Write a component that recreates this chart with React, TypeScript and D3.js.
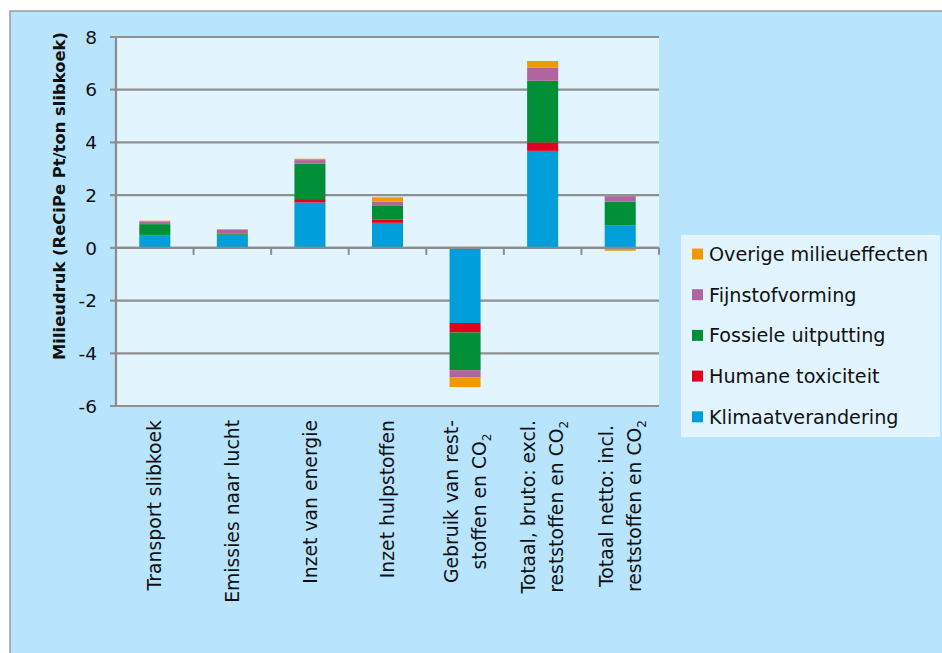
import { useEffect, useRef } from 'react';
import * as d3 from 'd3';

// Categories (lines of each rotated label)
const categories = [
  ['Transport slibkoek'],
  ['Emissies naar lucht'],
  ['Inzet van energie'],
  ['Inzet hulpstoffen'],
  ['Gebruik van rest-', 'stoffen en CO2'],
  ['Totaal, bruto: excl.', 'reststoffen en CO2'],
  ['Totaal netto: incl.', 'reststoffen en CO2'],
];

const klimaat = [0.47, 0.49, 1.72, 0.95, -2.85, 3.68, 0.86];
const humane = [0.02, 0.01, 0.13, 0.13, -0.36, 0.32, -0.02];
const fossiel = [0.41, 0.03, 1.35, 0.51, -1.43, 2.34, 0.89];
const fijnstof = [0.08, 0.17, 0.13, 0.16, -0.28, 0.49, 0.21];
const overige = [0.05, 0.0, 0.05, 0.17, -0.36, 0.26, -0.09];

const seriesNames = [
  'Klimaatverandering',
  'Humane toxiciteit',
  'Fossiele uitputting',
  'Fijnstofvorming',
  'Overige milieueffecten',
];
const seriesValues = [klimaat, humane, fossiel, fijnstof, overige];
const seriesColors = ['#009edb', '#e3001b', '#008f36', '#b0659f', '#ef9b00'];

const yTicks = [-6, -4, -2, 0, 2, 4, 6, 8];

const FONT = '"DejaVu Sans", sans-serif';

export default function App() {
  const ref = useRef<SVGSVGElement>(null);

  useEffect(() => {
    if (!ref.current) return;
    document.body.style.margin = '0';
    const svg = d3.select(ref.current);
    svg.selectAll('*').remove();

    const plot = { left: 116, right: 659, top: 37, bottom: 406 };

    // frame
    svg.append('rect').attr('width', 942).attr('height', 653).attr('fill', '#ffffff');
    svg.append('rect')
      .attr('x', 10).attr('y', 11).attr('width', 940).attr('height', 650)
      .attr('fill', '#b9e4fe').attr('stroke', '#9a9a9a').attr('stroke-width', 1.5);

    svg.append('rect')
      .attr('x', plot.left).attr('y', plot.top)
      .attr('width', plot.right - plot.left).attr('height', plot.bottom - plot.top)
      .attr('fill', '#e2f4fe');

    const keys = categories.map((_, i) => String(i));
    const x = d3.scaleBand<string>().domain(keys).range([plot.left, plot.right])
      .paddingInner(0.6).paddingOuter(0.3);
    const y = d3.scaleLinear().domain([-6, 8]).range([plot.bottom, plot.top]);

    // gridlines
    svg.append('g').selectAll('line').data(yTicks).join('line')
      .attr('x1', plot.left - 6).attr('x2', plot.right)
      .attr('y1', d => y(d)).attr('y2', d => y(d))
      .attr('stroke', '#909090').attr('stroke-width', 2.2);

    // y labels
    svg.append('g').selectAll('text').data(yTicks).join('text')
      .attr('x', 97).attr('y', d => y(d)).attr('dy', '0.36em')
      .attr('text-anchor', 'end')
      .attr('font-family', FONT).attr('font-size', 18.5)
      .attr('fill', '#111').text(d => String(d));

    // stacked bars
    const rows = keys.map((k, i) => {
      const r: Record<string, number> = {};
      seriesNames.forEach((s, j) => { r[s] = seriesValues[j][i]; });
      return r;
    });
    const stack = d3.stack<Record<string, number>>().keys(seriesNames)
      .offset(d3.stackOffsetDiverging);
    const stacked = stack(rows);

    stacked.forEach((layer, j) => {
      svg.append('g').selectAll('rect').data(layer).join('rect')
        .attr('x', (_, i) => x(keys[i])!)
        .attr('width', x.bandwidth())
        .attr('y', d => y(Math.max(d[0], d[1])))
        .attr('height', d => Math.abs(y(d[0]) - y(d[1])))
        .attr('fill', seriesColors[j]);
    });

    // axes
    svg.append('line')
      .attr('x1', plot.left).attr('x2', plot.left)
      .attr('y1', plot.top).attr('y2', plot.bottom + 1)
      .attr('stroke', '#8c8c8c').attr('stroke-width', 2.2);
    svg.append('line')
      .attr('x1', plot.left).attr('x2', plot.right)
      .attr('y1', y(0)).attr('y2', y(0))
      .attr('stroke', '#8c8c8c').attr('stroke-width', 2.2);
    const step = x.step();
    svg.append('g').selectAll('line').data(d3.range(keys.length + 1)).join('line')
      .attr('x1', d => plot.left + d * step).attr('x2', d => plot.left + d * step)
      .attr('y1', y(0)).attr('y2', y(0) + 7)
      .attr('stroke', '#8c8c8c').attr('stroke-width', 2);

    // category labels
    categories.forEach((lines, i) => {
      const cx = x(keys[i])! + x.bandwidth() / 2;
      const g = svg.append('g').attr('transform', `translate(${cx},420) rotate(-90)`);
      const texts = lines.map((line, li) => {
        const t = g.append('text')
          .attr('y', (li - (lines.length - 1) / 2) * 28)
          .attr('dy', '0.35em')
          .attr('text-anchor', 'middle')
          .attr('font-family', FONT).attr('font-size', 18.8)
          .attr('fill', '#111');
        if (line.endsWith('CO2')) {
          t.append('tspan').text(line.slice(0, -1));
          t.append('tspan').attr('font-size', 12).attr('dy', 5).text('2');
        } else {
          t.text(line);
        }
        return t;
      });
      const maxLen = d3.max(texts, t => (t.node() as SVGTextElement).getComputedTextLength()) || 0;
      texts.forEach(t => t.attr('x', -maxLen / 2));
    });

    // y title
    svg.append('text')
      .attr('transform', 'translate(65,196) rotate(-90)')
      .attr('text-anchor', 'middle')
      .attr('font-family', FONT).attr('font-weight', 'bold')
      .attr('font-size', 16.4).attr('fill', '#111')
      .text('Milieudruk (ReCiPe Pt/ton slibkoek)');

    // legend
    const legend = svg.append('g');
    legend.append('rect')
      .attr('x', 681).attr('y', 235).attr('width', 259).attr('height', 202)
      .attr('fill', '#e2f4fe');
    seriesNames.slice().reverse().forEach((name, k) => {
      const j = seriesNames.length - 1 - k;
      const cy = 254 + k * 40.7;
      legend.append('rect')
        .attr('x', 692).attr('y', cy - 5.5).attr('width', 11).attr('height', 11)
        .attr('fill', seriesColors[j]);
      legend.append('text')
        .attr('x', 709).attr('y', cy).attr('dy', '0.36em')
        .attr('font-family', FONT).attr('font-size', 19.2)
        .attr('fill', '#111').text(name);
    });
  }, []);

  return <svg ref={ref} width={942} height={653} style={{ display: 'block' }} />;
}
